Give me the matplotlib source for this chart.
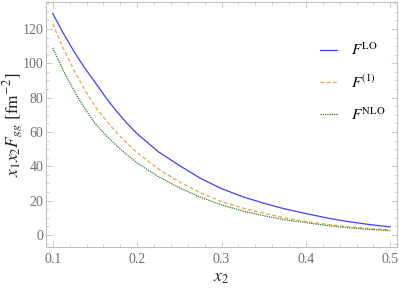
import numpy as np
import matplotlib.pyplot as plt
from matplotlib.ticker import MultipleLocator

plt.rcParams['font.family'] = ['Liberation Serif', 'DejaVu Serif']
plt.rcParams['mathtext.fontset'] = 'stix'

# values
x2 = [0.1, 0.1125, 0.125, 0.1375, 0.15, 0.1625, 0.175, 0.1875, 0.2,
      0.225, 0.25, 0.275, 0.3, 0.325, 0.35, 0.375, 0.4, 0.425, 0.45, 0.475, 0.5]
f_lo = [129, 117.5, 107, 97.5, 89, 80.3, 72.4, 65.3, 59,
        48.5, 40.5, 33, 27, 22.3, 18.5, 15.2, 12.5, 9.9, 7.8, 6.1, 4.7]
f_1 = [123, 108.7, 96.1, 85, 75, 67.1, 60, 53.7, 48,
       38.5, 31, 24.5, 19.5, 15.7, 12.7, 10, 7.9, 6.2, 4.8, 3.8, 2.9]
f_nlo = [109, 95.8, 84.2, 74, 65, 58.3, 52.3, 46.9, 42,
         34, 27.5, 22, 17.5, 14, 11.2, 8.9, 7.2, 5.5, 4.2, 3.3, 2.5]

fig = plt.figure(figsize=(3.99, 2.89), dpi=100)
ax = fig.add_axes([46 / 399, 1 - 247 / 289, 351 / 399, 245 / 289])

ax.plot(x2, f_lo, color='#4040ff', lw=0.9, label=r'$F^{\mathrm{LO}}$')
ax.plot(x2, f_1, color='#f5a040', lw=0.9, ls=(0, (3, 2)), label=r'$F^{(1)}$')
ax.plot(x2, f_nlo, color='#2e7d2e', lw=0.9, ls=(0, (1, 0.8)), label=r'$F^{\mathrm{NLO}}$')

ax.set_xlim(0.092, 0.508)
ax.set_ylim(-7, 135.7)

ax.xaxis.set_major_locator(MultipleLocator(0.1))
ax.xaxis.set_minor_locator(MultipleLocator(0.02))
ax.yaxis.set_major_locator(MultipleLocator(20))
ax.yaxis.set_minor_locator(MultipleLocator(5))
ax.set_xticks([0.1, 0.2, 0.3, 0.4, 0.5])
ax.set_xticklabels(['0.1', '0.2', '0.3', '0.4', '0.5'])

for s in ax.spines.values():
    s.set_color('#c0c0c0')
    s.set_linewidth(0.8)
ax.tick_params(which='both', direction='in', top=True, right=True,
               color='#c0c0c0', labelcolor='#707070', labelsize=10)
ax.tick_params(which='major', length=4, width=0.6)
ax.tick_params(axis='y', which='major', pad=2)
ax.tick_params(axis='x', which='major', pad=4)
ax.tick_params(which='minor', length=2, width=0.5)

ax.set_xlabel(r'$x_2$', fontsize=12.5, color='#222222', labelpad=3)
ax.set_ylabel(r'$x_1 x_2 F_{gg}\ [\mathrm{fm}^{-2}]$', fontsize=12.5,
              color='#222222')
ax.yaxis.set_label_coords(-0.06, 0.5)

ax.legend(loc='upper left', bbox_to_anchor=(0.76, 0.87), frameon=False,
          borderpad=0, fontsize=11, handlelength=1.1, handletextpad=0.9,
          labelspacing=1.0)

fig.savefig('out.png', dpi=100)
